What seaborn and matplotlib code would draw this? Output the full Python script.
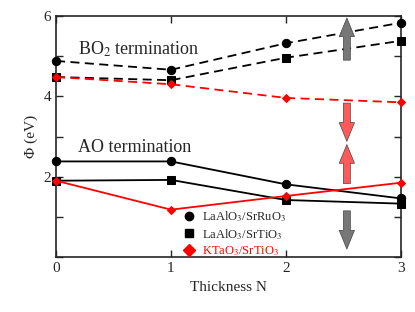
import numpy as np
import pandas as pd
import matplotlib
matplotlib.use("Agg")
import matplotlib.pyplot as plt
from matplotlib.lines import Line2D
from matplotlib.patches import FancyArrowPatch
import seaborn as sns

# thickness N
thickness = [0, 1, 2, 3]

# BO2 termination (dashed)
bo2_lao_sro = [4.88, 4.66, 5.32, 5.83]
bo2_lao_sto = [4.48, 4.40, 4.96, 5.38]
bo2_kto_sto = [4.48, 4.30, 3.96, 3.85]

# AO termination (solid)
ao_lao_sro = [2.38, 2.38, 1.81, 1.46]
ao_lao_sto = [1.90, 1.92, 1.42, 1.33]
ao_kto_sto = [1.90, 1.18, 1.52, 1.85]

labels = ["LaAlO$_3$/SrRuO$_3$", "LaAlO$_3$/SrTiO$_3$", "KTaO$_3$/SrTiO$_3$"]

sns.set_style("ticks")
plt.rcParams["font.family"] = ["Liberation Serif", "DejaVu Serif"]
plt.rcParams["mathtext.fontset"] = "stix"

fig, ax = plt.subplots(figsize=(4.15, 3.12), dpi=100)
fig.subplots_adjust(left=0.135, right=0.966, top=0.949, bottom=0.176)

series = [
    (bo2_lao_sro, "black", "o", 6, (0, (5, 3))),
    (bo2_lao_sto, "black", "s", 5.5, (0, (5, 3))),
    (bo2_kto_sto, "red", "D", 4, (0, (5, 3))),
    (ao_lao_sro, "black", "o", 6, "-"),
    (ao_lao_sto, "black", "s", 5.5, "-"),
    (ao_kto_sto, "red", "D", 4, "-"),
]
for vals, col, mk, ms, ls in series:
    sns.lineplot(x=thickness, y=vals, ax=ax, color=col, marker=mk,
                 markersize=ms, markeredgecolor=col, linewidth=1.3,
                 linestyle=ls, legend=False, clip_on=False, zorder=3)

# arrows
arrows = [
    ((2.53, 4.9), (2.53, 5.95), "#777777"),
    ((2.53, 3.83), (2.53, 2.88), "#ff5a5a"),
    ((2.53, 1.83), (2.53, 2.8), "#ff5a5a"),
    ((2.53, 1.15), (2.53, 0.2), "#777777"),
]
for a, b, c in arrows:
    ax.add_patch(FancyArrowPatch(a, b, arrowstyle="simple,head_width=1.1,head_length=1.35,tail_width=0.5",
                                 mutation_scale=10, facecolor=c, edgecolor="#444444",
                                 linewidth=0.5, shrinkA=0, shrinkB=0, zorder=4))

ax.text(0.19, 5.17, "BO$_2$ termination", fontsize=13, va="center")
ax.text(0.19, 2.72, "AO termination", fontsize=13, va="center")

handles = [
    Line2D([], [], color="black", marker="o", linestyle="none", markersize=6),
    Line2D([], [], color="black", marker="s", linestyle="none", markersize=6),
    Line2D([], [], color="red", marker="D", linestyle="none", markersize=6),
]
leg = ax.legend(handles, labels, loc="lower left", bbox_to_anchor=(0.335, -0.05),
                frameon=False, fontsize=9, handlelength=1.0, handletextpad=0.5,
                labelspacing=0.2)
leg.get_texts()[2].set_color("red")

ax.set_xlim(0, 3)
ax.set_ylim(0, 6)
ax.set_xticks(thickness)
ax.set_yticks(range(7))
ax.set_yticklabels(["", "", "2", "", "4", "", "6"])
ax.tick_params(direction="in", top=True, right=True, labelsize=11, length=5, width=1)
ax.set_xlabel("Thickness N", fontsize=11)
ax.set_ylabel("Φ (eV)", fontsize=11)
for s in ax.spines.values():
    s.set_linewidth(1.2)

plt.savefig("out.png", dpi=100)
